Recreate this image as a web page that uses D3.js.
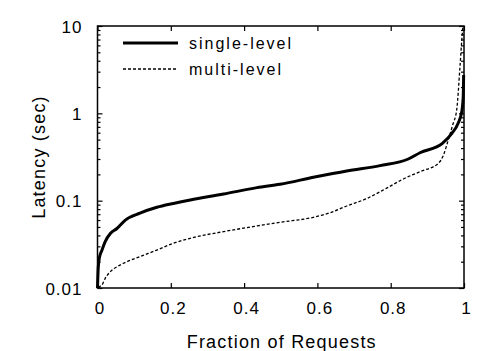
<!DOCTYPE html>
<html>
<head>
<meta charset="utf-8">
<script src="https://cdn.jsdelivr.net/npm/d3@7"></script>
<style>
  body { margin: 0; background: #fff; }
  svg { display: block; font-family: "Liberation Sans", Arial, sans-serif; }
  .tick text { font-size: 17px; letter-spacing: 1px; fill: #000; }
  .tick line { stroke: #000; stroke-width: 1.2; }
</style>
</head>
<body>
<div id="chart"></div>
<script>
// Latency CDF — single-level vs multi-level
const seriesNames = ["single-level", "multi-level"];

const singleX = [0.0, 0.002, 0.005, 0.012, 0.021, 0.035, 0.053, 0.076, 0.116, 0.162, 0.207, 0.253,
  0.344, 0.435, 0.498, 0.589, 0.68, 0.771, 0.848, 0.88, 0.941, 0.967, 0.984, 0.994, 0.998, 0.999];
const singleY = [0.01, 0.017, 0.022, 0.027, 0.034, 0.042, 0.048, 0.06, 0.072, 0.084, 0.093, 0.102,
  0.119, 0.141, 0.154, 0.185, 0.219, 0.252, 0.3, 0.354, 0.454, 0.59, 0.77, 1.05, 1.6, 2.75];

const multiX = [0.004, 0.006, 0.012, 0.021, 0.035, 0.053, 0.071, 0.116, 0.162, 0.207, 0.253, 0.344,
  0.435, 0.498, 0.589, 0.635, 0.68, 0.735, 0.789, 0.834, 0.88, 0.93, 0.944, 0.957, 0.969, 0.98,
  0.989, 0.994, 0.997];
const multiY = [0.01, 0.0104, 0.0108, 0.0129, 0.0154, 0.0175, 0.0192, 0.0229, 0.0272, 0.0325, 0.0371,
  0.0442, 0.0513, 0.0565, 0.0645, 0.0728, 0.0869, 0.106, 0.139, 0.177, 0.215, 0.268, 0.333, 0.495,
  0.735, 1.09, 3.4, 6.9, 10];

const xTicks = [0, 0.2, 0.4, 0.6, 0.8, 1];
const xTickLabels = ["0", "0.2", "0.4", "0.6", "0.8", "1"];
const yTicks = [0.01, 0.1, 1, 10];
const yTickLabels = ["0.01", "0.1", "1", "10"];

const W = 501, H = 351;
const plot = { left: 97.5, right: 464, top: 26, bottom: 288 };

const svg = d3.select("#chart").append("svg")
  .attr("width", W).attr("height", H);

const x = d3.scaleLinear().domain([0, 1]).range([plot.left, plot.right]);
const y = d3.scaleLog().domain([0.01, 10]).range([plot.bottom, plot.top]);

const minorY = y.ticks().filter(v => !yTicks.some(t => Math.abs(t - v) < 1e-9));

function clean(g) { g.select(".domain").remove(); }

// left axis with labels
svg.append("g")
  .attr("transform", `translate(${plot.left},0)`)
  .call(d3.axisLeft(y).tickValues(yTicks).tickSize(-5).tickPadding(15)
    .tickFormat((d, i) => yTickLabels[i]))
  .call(clean)
  .call(g => g.selectAll("text").attr("dy", "0.36em"));
svg.append("g")
  .attr("transform", `translate(${plot.left},0)`)
  .call(d3.axisLeft(y).tickValues(minorY).tickSize(-3).tickFormat(""))
  .call(clean);

// right axis (ticks only)
svg.append("g")
  .attr("transform", `translate(${plot.right},0)`)
  .call(d3.axisRight(y).tickValues(yTicks).tickSize(-5).tickFormat(""))
  .call(clean);
svg.append("g")
  .attr("transform", `translate(${plot.right},0)`)
  .call(d3.axisRight(y).tickValues(minorY).tickSize(-3).tickFormat(""))
  .call(clean);

// bottom axis with labels
svg.append("g")
  .attr("transform", `translate(0,${plot.bottom})`)
  .call(d3.axisBottom(x).tickValues(xTicks).tickSize(-5).tickPadding(14)
    .tickFormat((d, i) => xTickLabels[i]))
  .call(clean)
  .call(g => g.selectAll("text").attr("dx", "2"));

// top axis (ticks only)
svg.append("g")
  .attr("transform", `translate(0,${plot.top})`)
  .call(d3.axisTop(x).tickValues(xTicks).tickSize(-5).tickFormat(""))
  .call(clean);

// frame
svg.append("rect")
  .attr("x", plot.left).attr("y", plot.top)
  .attr("width", plot.right - plot.left).attr("height", plot.bottom - plot.top)
  .attr("fill", "none").attr("stroke", "#000").attr("stroke-width", 1.5);

const line = d3.line()
  .x(d => x(d[0]))
  .y(d => y(d[1]))
  .curve(d3.curveMonotoneX);

const singleData = singleX.map((v, i) => [v, singleY[i]]);
const multiData = multiX.map((v, i) => [v, multiY[i]]);

svg.append("path")
  .datum(multiData)
  .attr("d", line)
  .attr("fill", "none")
  .attr("stroke", "#000")
  .attr("stroke-width", 1.3)
  .attr("stroke-dasharray", "3,2");

svg.append("path")
  .datum(singleData)
  .attr("d", line)
  .attr("fill", "none")
  .attr("stroke", "#000")
  .attr("stroke-width", 3);

// legend
const legend = [
  { name: seriesNames[0], y: 43, width: 3, dash: null },
  { name: seriesNames[1], y: 69, width: 1.3, dash: "3,2" }
];
legend.forEach(l => {
  svg.append("line")
    .attr("x1", 123).attr("x2", 178)
    .attr("y1", l.y).attr("y2", l.y)
    .attr("stroke", "#000")
    .attr("stroke-width", l.width)
    .attr("stroke-dasharray", l.dash);
  svg.append("text")
    .attr("x", 189).attr("y", l.y)
    .attr("dy", "0.36em")
    .style("font-size", "16px")
    .style("letter-spacing", "2px")
    .text(l.name);
});

// axis titles
svg.append("text")
  .attr("x", (plot.left + plot.right) / 2 + 1)
  .attr("y", 348)
  .attr("text-anchor", "middle")
  .style("font-size", "18px")
  .style("letter-spacing", "1.2px")
  .text("Fraction of Requests");

svg.append("text")
  .attr("transform", `translate(45,${(plot.top + plot.bottom) / 2}) rotate(-90)`)
  .attr("text-anchor", "middle")
  .style("font-size", "18px")
  .style("letter-spacing", "1.2px")
  .text("Latency (sec)");
</script>
</body>
</html>
